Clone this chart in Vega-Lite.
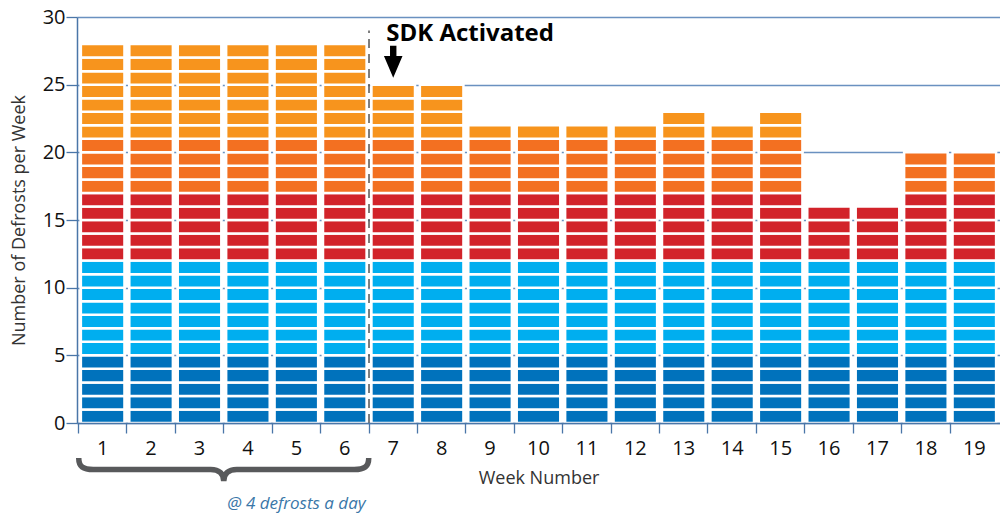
{
  "$schema": "https://vega.github.io/schema/vega-lite/v6.json",
  "width": 923,
  "height": 406,
  "autosize": "none",
  "padding": {"left": 77, "top": 17, "right": 0, "bottom": 96},
  "config": {"view": {"stroke": null}, "font": "Open Sans"},
  "datasets": {
    "blocks": [
      {"w":1,"n":1},{"w":1,"n":2},{"w":1,"n":3},{"w":1,"n":4},{"w":1,"n":5},{"w":1,"n":6},{"w":1,"n":7},{"w":1,"n":8},{"w":1,"n":9},{"w":1,"n":10},{"w":1,"n":11},{"w":1,"n":12},{"w":1,"n":13},{"w":1,"n":14},{"w":1,"n":15},{"w":1,"n":16},{"w":1,"n":17},{"w":1,"n":18},{"w":1,"n":19},{"w":1,"n":20},{"w":1,"n":21},{"w":1,"n":22},{"w":1,"n":23},{"w":1,"n":24},{"w":1,"n":25},{"w":1,"n":26},{"w":1,"n":27},{"w":1,"n":28},
      {"w":2,"n":1},{"w":2,"n":2},{"w":2,"n":3},{"w":2,"n":4},{"w":2,"n":5},{"w":2,"n":6},{"w":2,"n":7},{"w":2,"n":8},{"w":2,"n":9},{"w":2,"n":10},{"w":2,"n":11},{"w":2,"n":12},{"w":2,"n":13},{"w":2,"n":14},{"w":2,"n":15},{"w":2,"n":16},{"w":2,"n":17},{"w":2,"n":18},{"w":2,"n":19},{"w":2,"n":20},{"w":2,"n":21},{"w":2,"n":22},{"w":2,"n":23},{"w":2,"n":24},{"w":2,"n":25},{"w":2,"n":26},{"w":2,"n":27},{"w":2,"n":28},
      {"w":3,"n":1},{"w":3,"n":2},{"w":3,"n":3},{"w":3,"n":4},{"w":3,"n":5},{"w":3,"n":6},{"w":3,"n":7},{"w":3,"n":8},{"w":3,"n":9},{"w":3,"n":10},{"w":3,"n":11},{"w":3,"n":12},{"w":3,"n":13},{"w":3,"n":14},{"w":3,"n":15},{"w":3,"n":16},{"w":3,"n":17},{"w":3,"n":18},{"w":3,"n":19},{"w":3,"n":20},{"w":3,"n":21},{"w":3,"n":22},{"w":3,"n":23},{"w":3,"n":24},{"w":3,"n":25},{"w":3,"n":26},{"w":3,"n":27},{"w":3,"n":28},
      {"w":4,"n":1},{"w":4,"n":2},{"w":4,"n":3},{"w":4,"n":4},{"w":4,"n":5},{"w":4,"n":6},{"w":4,"n":7},{"w":4,"n":8},{"w":4,"n":9},{"w":4,"n":10},{"w":4,"n":11},{"w":4,"n":12},{"w":4,"n":13},{"w":4,"n":14},{"w":4,"n":15},{"w":4,"n":16},{"w":4,"n":17},{"w":4,"n":18},{"w":4,"n":19},{"w":4,"n":20},{"w":4,"n":21},{"w":4,"n":22},{"w":4,"n":23},{"w":4,"n":24},{"w":4,"n":25},{"w":4,"n":26},{"w":4,"n":27},{"w":4,"n":28},
      {"w":5,"n":1},{"w":5,"n":2},{"w":5,"n":3},{"w":5,"n":4},{"w":5,"n":5},{"w":5,"n":6},{"w":5,"n":7},{"w":5,"n":8},{"w":5,"n":9},{"w":5,"n":10},{"w":5,"n":11},{"w":5,"n":12},{"w":5,"n":13},{"w":5,"n":14},{"w":5,"n":15},{"w":5,"n":16},{"w":5,"n":17},{"w":5,"n":18},{"w":5,"n":19},{"w":5,"n":20},{"w":5,"n":21},{"w":5,"n":22},{"w":5,"n":23},{"w":5,"n":24},{"w":5,"n":25},{"w":5,"n":26},{"w":5,"n":27},{"w":5,"n":28},
      {"w":6,"n":1},{"w":6,"n":2},{"w":6,"n":3},{"w":6,"n":4},{"w":6,"n":5},{"w":6,"n":6},{"w":6,"n":7},{"w":6,"n":8},{"w":6,"n":9},{"w":6,"n":10},{"w":6,"n":11},{"w":6,"n":12},{"w":6,"n":13},{"w":6,"n":14},{"w":6,"n":15},{"w":6,"n":16},{"w":6,"n":17},{"w":6,"n":18},{"w":6,"n":19},{"w":6,"n":20},{"w":6,"n":21},{"w":6,"n":22},{"w":6,"n":23},{"w":6,"n":24},{"w":6,"n":25},{"w":6,"n":26},{"w":6,"n":27},{"w":6,"n":28},
      {"w":7,"n":1},{"w":7,"n":2},{"w":7,"n":3},{"w":7,"n":4},{"w":7,"n":5},{"w":7,"n":6},{"w":7,"n":7},{"w":7,"n":8},{"w":7,"n":9},{"w":7,"n":10},{"w":7,"n":11},{"w":7,"n":12},{"w":7,"n":13},{"w":7,"n":14},{"w":7,"n":15},{"w":7,"n":16},{"w":7,"n":17},{"w":7,"n":18},{"w":7,"n":19},{"w":7,"n":20},{"w":7,"n":21},{"w":7,"n":22},{"w":7,"n":23},{"w":7,"n":24},{"w":7,"n":25},
      {"w":8,"n":1},{"w":8,"n":2},{"w":8,"n":3},{"w":8,"n":4},{"w":8,"n":5},{"w":8,"n":6},{"w":8,"n":7},{"w":8,"n":8},{"w":8,"n":9},{"w":8,"n":10},{"w":8,"n":11},{"w":8,"n":12},{"w":8,"n":13},{"w":8,"n":14},{"w":8,"n":15},{"w":8,"n":16},{"w":8,"n":17},{"w":8,"n":18},{"w":8,"n":19},{"w":8,"n":20},{"w":8,"n":21},{"w":8,"n":22},{"w":8,"n":23},{"w":8,"n":24},{"w":8,"n":25},
      {"w":9,"n":1},{"w":9,"n":2},{"w":9,"n":3},{"w":9,"n":4},{"w":9,"n":5},{"w":9,"n":6},{"w":9,"n":7},{"w":9,"n":8},{"w":9,"n":9},{"w":9,"n":10},{"w":9,"n":11},{"w":9,"n":12},{"w":9,"n":13},{"w":9,"n":14},{"w":9,"n":15},{"w":9,"n":16},{"w":9,"n":17},{"w":9,"n":18},{"w":9,"n":19},{"w":9,"n":20},{"w":9,"n":21},{"w":9,"n":22},
      {"w":10,"n":1},{"w":10,"n":2},{"w":10,"n":3},{"w":10,"n":4},{"w":10,"n":5},{"w":10,"n":6},{"w":10,"n":7},{"w":10,"n":8},{"w":10,"n":9},{"w":10,"n":10},{"w":10,"n":11},{"w":10,"n":12},{"w":10,"n":13},{"w":10,"n":14},{"w":10,"n":15},{"w":10,"n":16},{"w":10,"n":17},{"w":10,"n":18},{"w":10,"n":19},{"w":10,"n":20},{"w":10,"n":21},{"w":10,"n":22},
      {"w":11,"n":1},{"w":11,"n":2},{"w":11,"n":3},{"w":11,"n":4},{"w":11,"n":5},{"w":11,"n":6},{"w":11,"n":7},{"w":11,"n":8},{"w":11,"n":9},{"w":11,"n":10},{"w":11,"n":11},{"w":11,"n":12},{"w":11,"n":13},{"w":11,"n":14},{"w":11,"n":15},{"w":11,"n":16},{"w":11,"n":17},{"w":11,"n":18},{"w":11,"n":19},{"w":11,"n":20},{"w":11,"n":21},{"w":11,"n":22},
      {"w":12,"n":1},{"w":12,"n":2},{"w":12,"n":3},{"w":12,"n":4},{"w":12,"n":5},{"w":12,"n":6},{"w":12,"n":7},{"w":12,"n":8},{"w":12,"n":9},{"w":12,"n":10},{"w":12,"n":11},{"w":12,"n":12},{"w":12,"n":13},{"w":12,"n":14},{"w":12,"n":15},{"w":12,"n":16},{"w":12,"n":17},{"w":12,"n":18},{"w":12,"n":19},{"w":12,"n":20},{"w":12,"n":21},{"w":12,"n":22},
      {"w":13,"n":1},{"w":13,"n":2},{"w":13,"n":3},{"w":13,"n":4},{"w":13,"n":5},{"w":13,"n":6},{"w":13,"n":7},{"w":13,"n":8},{"w":13,"n":9},{"w":13,"n":10},{"w":13,"n":11},{"w":13,"n":12},{"w":13,"n":13},{"w":13,"n":14},{"w":13,"n":15},{"w":13,"n":16},{"w":13,"n":17},{"w":13,"n":18},{"w":13,"n":19},{"w":13,"n":20},{"w":13,"n":21},{"w":13,"n":22},{"w":13,"n":23},
      {"w":14,"n":1},{"w":14,"n":2},{"w":14,"n":3},{"w":14,"n":4},{"w":14,"n":5},{"w":14,"n":6},{"w":14,"n":7},{"w":14,"n":8},{"w":14,"n":9},{"w":14,"n":10},{"w":14,"n":11},{"w":14,"n":12},{"w":14,"n":13},{"w":14,"n":14},{"w":14,"n":15},{"w":14,"n":16},{"w":14,"n":17},{"w":14,"n":18},{"w":14,"n":19},{"w":14,"n":20},{"w":14,"n":21},{"w":14,"n":22},
      {"w":15,"n":1},{"w":15,"n":2},{"w":15,"n":3},{"w":15,"n":4},{"w":15,"n":5},{"w":15,"n":6},{"w":15,"n":7},{"w":15,"n":8},{"w":15,"n":9},{"w":15,"n":10},{"w":15,"n":11},{"w":15,"n":12},{"w":15,"n":13},{"w":15,"n":14},{"w":15,"n":15},{"w":15,"n":16},{"w":15,"n":17},{"w":15,"n":18},{"w":15,"n":19},{"w":15,"n":20},{"w":15,"n":21},{"w":15,"n":22},{"w":15,"n":23},
      {"w":16,"n":1},{"w":16,"n":2},{"w":16,"n":3},{"w":16,"n":4},{"w":16,"n":5},{"w":16,"n":6},{"w":16,"n":7},{"w":16,"n":8},{"w":16,"n":9},{"w":16,"n":10},{"w":16,"n":11},{"w":16,"n":12},{"w":16,"n":13},{"w":16,"n":14},{"w":16,"n":15},{"w":16,"n":16},
      {"w":17,"n":1},{"w":17,"n":2},{"w":17,"n":3},{"w":17,"n":4},{"w":17,"n":5},{"w":17,"n":6},{"w":17,"n":7},{"w":17,"n":8},{"w":17,"n":9},{"w":17,"n":10},{"w":17,"n":11},{"w":17,"n":12},{"w":17,"n":13},{"w":17,"n":14},{"w":17,"n":15},{"w":17,"n":16},
      {"w":18,"n":1},{"w":18,"n":2},{"w":18,"n":3},{"w":18,"n":4},{"w":18,"n":5},{"w":18,"n":6},{"w":18,"n":7},{"w":18,"n":8},{"w":18,"n":9},{"w":18,"n":10},{"w":18,"n":11},{"w":18,"n":12},{"w":18,"n":13},{"w":18,"n":14},{"w":18,"n":15},{"w":18,"n":16},{"w":18,"n":17},{"w":18,"n":18},{"w":18,"n":19},{"w":18,"n":20},
      {"w":19,"n":1},{"w":19,"n":2},{"w":19,"n":3},{"w":19,"n":4},{"w":19,"n":5},{"w":19,"n":6},{"w":19,"n":7},{"w":19,"n":8},{"w":19,"n":9},{"w":19,"n":10},{"w":19,"n":11},{"w":19,"n":12},{"w":19,"n":13},{"w":19,"n":14},{"w":19,"n":15},{"w":19,"n":16},{"w":19,"n":17},{"w":19,"n":18},{"w":19,"n":19},{"w":19,"n":20}
    ]
  },
  "layer": [
    {
      "data": {"name": "blocks"},
      "mark": {"type": "bar", "width": {"band": 0.9}, "stroke": "white", "strokeWidth": 2.5},
      "encoding": {
        "x": {
          "field": "w", "type": "ordinal", "title": "Week Number",
          "scale": {"paddingInner": 0, "paddingOuter": 0.03},
          "axis": {
            "labelAngle": 0, "labelFontSize": 20, "labelColor": "#111", "labelPadding": 5,
            "tickSize": 10, "tickColor": "#4A76A8", "tickWidth": 1.3, "bandPosition": 0,
            "domainColor": "#4A76A8", "domainWidth": 1.5,
            "titleFontSize": 18, "titleFontWeight": "normal", "titleColor": "#333", "titlePadding": 11,
            "zindex": 1
          }
        },
        "y": {
          "aggregate": "count", "type": "quantitative", "title": "Number of Defrosts per Week",
          "scale": {"domain": [0, 30], "nice": false},
          "axis": {
            "values": [0, 5, 10, 15, 20, 25, 30],
            "labelFontSize": 20, "labelColor": "#111", "labelPadding": 1,
            "tickSize": 11, "tickColor": "#4A76A8", "tickWidth": 1.3,
            "domainColor": "#4A76A8", "domainWidth": 1.5,
            "grid": true, "gridColor": "#6A91C0", "gridWidth": 1.6,
            "titleFontSize": 18, "titleFontWeight": "normal", "titleColor": "#333", "titlePadding": 14
          }
        },
        "color": {
          "field": "n", "type": "quantitative", "legend": null,
          "scale": {"type": "threshold", "domain": [6, 13, 18, 22],
                    "range": ["#0072BC", "#00AEEF", "#D2232A", "#F37021", "#F7941D"]}
        },
        "order": {"field": "n", "type": "quantitative", "sort": "ascending"}
      }
    },
    {
      "data": {"values": [{"w": 7}]},
      "mark": {"type": "rule", "color": "#555", "strokeWidth": 1.5, "strokeDash": [9, 6]},
      "encoding": {
        "x": {"field": "w", "type": "ordinal", "bandPosition": 0, "title": "Week Number"},
        "y": {"datum": 0},
        "y2": {"datum": 29}
      }
    },
    {
      "data": {"values": [{"w": 7, "label": "SDK Activated"}]},
      "mark": {"type": "text", "align": "left", "baseline": "alphabetic", "dx": -7, "fontSize": 24, "fontWeight": "bold", "color": "#000"},
      "encoding": {
        "x": {"field": "w", "type": "ordinal", "title": "Week Number"},
        "y": {"datum": 28.2},
        "text": {"field": "label"}
      }
    },
    {
      "data": {"values": [{"w": 7}]},
      "mark": {"type": "point", "shape": "M-0.2,-1 L0.2,-1 L0.2,-0.35 L0.58,-0.35 L0,1 L-0.58,-0.35 L-0.2,-0.35 Z", "size": 1024, "filled": true, "color": "#000", "opacity": 1, "strokeWidth": 0},
      "encoding": {
        "x": {"field": "w", "type": "ordinal", "title": "Week Number"},
        "y": {"datum": 26.7}
      }
    },
    {
      "data": {"values": [{"w": 4}]},
      "mark": {"type": "point", "shape": "M-1,-0.08 C-1,-0.02 -0.97,0 -0.9,0 L-0.09,0 C-0.03,0 0,0.03 0,0.08 C0,0.03 0.03,0 0.09,0 L0.9,0 C0.97,0 1,-0.02 1,-0.08", "size": 84100, "filled": false, "stroke": "#58595B", "strokeWidth": 5.5, "opacity": 1},
      "encoding": {
        "x": {"field": "w", "type": "ordinal", "bandPosition": 0, "title": "Week Number"},
        "y": {"datum": -3.44}
      }
    },
    {
      "data": {"values": [{"w": 5, "label": "@ 4 defrosts a day"}]},
      "mark": {"type": "text", "align": "center", "baseline": "middle", "fontSize": 17, "fontStyle": "italic", "color": "#3A77A8"},
      "encoding": {
        "x": {"field": "w", "type": "ordinal", "title": "Week Number"},
        "y": {"datum": -6.0},
        "text": {"field": "label"}
      }
    }
  ]
}
